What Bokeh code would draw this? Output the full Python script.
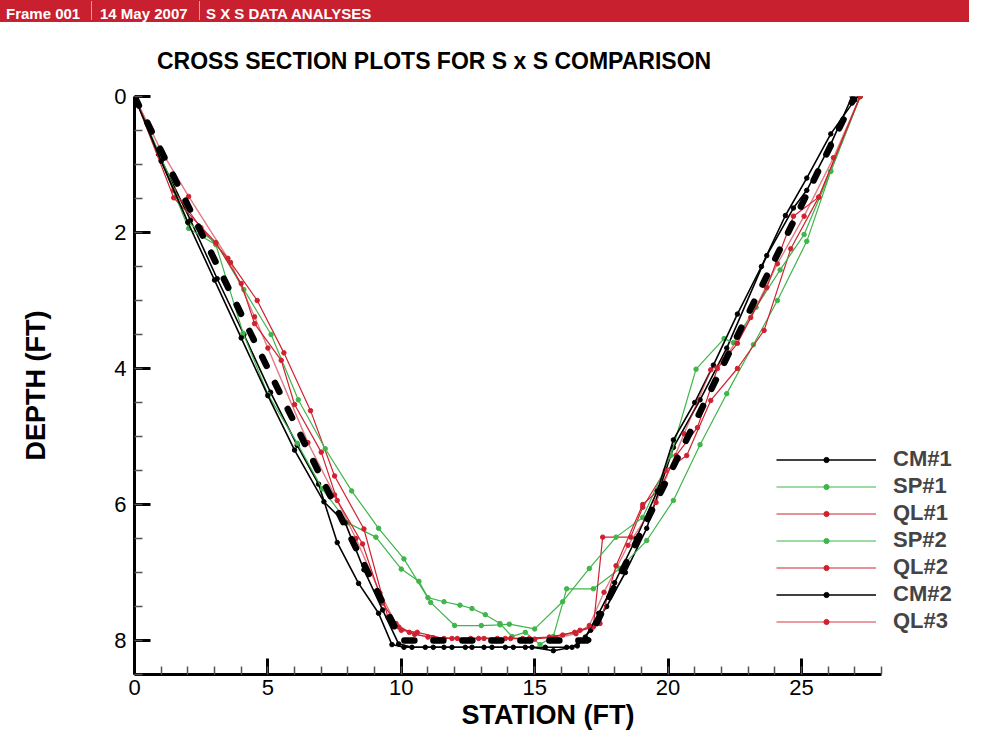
from bokeh.plotting import figure
from bokeh.models import Range1d, Legend, LegendItem, Div, FixedTicker
from bokeh.layouts import column
from bokeh.embed import file_html
from bokeh.resources import INLINE

# ---- data (station ft, depth ft) ----
design_x = [0, 10, 17, 27]
design_y = [0, 8, 8, 0]

cm1_x = [0, 0.9, 2.1, 3.1, 4.1, 5.1, 6.1, 6.9, 7.6, 8.4, 9.15, 9.65, 10.1, 10.9, 11.6, 12.4, 13.1, 13.9, 14.65, 15.4, 16.2, 16.6, 17.1, 17.7, 18.4, 19.2, 19.7, 20.2, 21.2, 22.2, 23.7, 24.7, 25.2, 26.1, 26.9]
cm1_y = [0, 0.85, 1.82, 2.68, 3.5, 4.35, 5.13, 5.7, 6.56, 7.16, 7.6, 8.06, 8.1, 8.1, 8.1, 8.1, 8.1, 8.1, 8.1, 8.1, 8.1, 8.08, 7.85, 7.5, 7.0, 6.35, 5.75, 5.16, 4.46, 3.7, 2.34, 1.64, 1.38, 0.7, 0]

sp1_x = [0, 1.0, 2.03, 3.05, 4.07, 5.0, 6.1, 7.04, 8.0, 9.05, 10.0, 10.66, 11.0, 11.6, 12.2, 12.65, 13.15, 13.7, 14.15, 14.65, 15.2, 15.7, 16.2, 17.2, 18.2, 19.2, 20.2, 21.2, 22.2, 23.2, 24.1, 25.2, 26.1, 27.2]
sp1_y = [0, 0.95, 1.94, 2.18, 3.48, 4.38, 5.1, 5.77, 6.27, 6.48, 6.95, 7.13, 7.37, 7.43, 7.48, 7.53, 7.62, 7.75, 7.94, 7.88, 8.06, 7.94, 7.24, 7.24, 6.94, 6.53, 5.94, 5.12, 4.37, 3.65, 3.0, 2.13, 1.1, 0]

ql1_x = [0, 1.47, 2.49, 3.5, 4.6, 5.6, 6.6, 7.5, 8.6, 9.5, 10.0, 10.6, 11.6, 12.6, 13.6, 14.55, 15.55, 16.5, 17.2, 17.55, 18.6, 19.05, 19.9, 20.7, 21.6, 22.6, 23.6, 24.6, 25.65, 27.2]
ql1_y = [0, 1.38, 1.93, 2.38, 3.0, 3.77, 4.62, 5.58, 6.36, 7.66, 7.85, 7.88, 7.97, 7.97, 7.97, 7.97, 7.95, 7.88, 7.8, 6.48, 6.48, 6.04, 5.5, 5.28, 4.47, 4.0, 3.44, 2.24, 1.48, 0]

sp2_x = [0, 1.0, 2.0, 3.05, 4.1, 5.12, 6.14, 7.15, 8.14, 9.15, 10.1, 11.1, 12.0, 13.0, 13.7, 14.05, 15.0, 16.05, 17.05, 18.05, 19.05, 20.1, 21.05, 22.1, 22.45, 23.3, 24.2, 25.1, 26.1, 27.2]
sp2_y = [0, 0.9, 1.85, 2.15, 2.84, 3.5, 4.46, 5.18, 5.8, 6.35, 6.8, 7.44, 7.78, 7.78, 7.77, 7.76, 7.83, 7.43, 6.94, 6.48, 6.19, 5.28, 4.01, 3.56, 3.62, 3.1, 2.55, 2.03, 1.1, 0]

ql2_x = [0, 1.47, 3.05, 4.0, 4.5, 5.5, 6.0, 7.0, 7.6, 8.55, 9.3, 9.9, 10.5, 11.2, 12.1, 13.1, 14.1, 15.0, 16.05, 16.7, 17.45, 18.05, 19.05, 19.7, 20.3, 21.1, 21.85, 22.6, 23.7, 24.7, 25.65, 27.2]
ql2_y = [0, 1.49, 2.15, 2.75, 3.34, 3.88, 4.53, 5.23, 5.94, 6.58, 7.45, 7.8, 7.91, 7.96, 7.97, 7.97, 7.97, 7.98, 7.92, 7.85, 7.75, 6.9, 6.0, 5.77, 5.28, 4.87, 4.0, 3.63, 2.81, 1.76, 1.48, 0]

cm2_x = [0, 1.0, 2.0, 3.0, 4.0, 5.0, 6.0, 7.1, 7.9, 8.6, 9.3, 9.9, 10.4, 11.2, 11.9, 12.65, 13.4, 14.2, 14.9, 15.7, 16.4, 16.9, 17.4, 18.0, 18.8, 19.6, 20.2, 21.0, 21.7, 22.6, 23.5, 24.4, 25.2, 26.1, 27.0]
cm2_y = [0, 0.95, 1.85, 2.7, 3.55, 4.4, 5.2, 5.96, 6.27, 6.96, 7.55, 8.05, 8.1, 8.1, 8.1, 8.1, 8.1, 8.1, 8.1, 8.15, 8.1, 7.95, 7.6, 7.15, 6.5, 5.8, 5.05, 4.5, 3.95, 3.2, 2.5, 1.75, 1.2, 0.55, 0.05]

ql3_x = [0, 1.0, 2.03, 3.6, 4.5, 5.0, 6.5, 7.5, 8.3, 9.2, 9.8, 10.3, 11.0, 11.9, 12.9, 13.9, 14.8, 15.8, 16.55, 17.05, 17.6, 18.5, 19.55, 20.6, 21.6, 22.1, 23.1, 24.1, 25.1, 26.2, 27.2]
ql3_y = [0, 0.8, 1.47, 2.44, 3.24, 3.7, 5.09, 5.86, 6.5, 7.3, 7.75, 7.88, 7.95, 7.97, 7.97, 7.97, 7.97, 7.96, 7.9, 7.78, 7.29, 6.6, 5.97, 4.96, 4.02, 3.88, 3.25, 2.46, 1.76, 0.9, 0]

series_names = ["CM#1", "SP#1", "QL#1", "SP#2", "QL#2", "CM#2", "QL#3"]

x_major = [0, 5, 10, 15, 20, 25]
y_major = [0, 2, 4, 6, 8]

BLACK = "#000000"
GREEN = "#3fb54a"
RED = "#cf2230"

FONT = "Liberation Sans"

header_html = f"""
<div style="position:relative;width:972px;height:70px;font-family:'{FONT}',Arial,sans-serif;">
  <div style="position:absolute;left:0px;top:0px;width:972px;height:25px;background:#c8202f;"></div>
  <span style="position:absolute;left:9px;top:9px;color:#ffffff;font-weight:bold;font-size:15px;line-height:15px;white-space:nowrap;">Frame 001</span>
  <div style="position:absolute;left:94px;top:4px;width:1px;height:19px;background:#e89aa0;"></div>
  <span style="position:absolute;left:103px;top:9px;color:#ffffff;font-weight:bold;font-size:15px;line-height:15px;white-space:nowrap;">14 May 2007</span>
  <div style="position:absolute;left:202px;top:4px;width:1px;height:19px;background:#e89aa0;"></div>
  <span style="position:absolute;left:209px;top:9px;color:#ffffff;font-weight:bold;font-size:15px;line-height:15px;white-space:nowrap;">S X S DATA ANALYSES</span>
  <span style="position:absolute;left:160px;top:53px;color:#000000;font-weight:bold;font-size:23px;line-height:23px;white-space:nowrap;">CROSS SECTION PLOTS FOR S x S COMPARISON</span>
</div>
"""
header = Div(text=header_html, width=972, height=70)

p = figure(width=972, height=667, x_range=Range1d(0, 31), y_range=Range1d(8.5, 0),
           output_backend="svg", toolbar_location=None,
           min_border_left=142, min_border_right=3, min_border_top=24, min_border_bottom=65)
p.outline_line_color = None
p.grid.visible = False
p.background_fill_color = "white"
p.border_fill_color = "white"

p.xaxis.ticker = FixedTicker(ticks=x_major, minor_ticks=list(range(0, 29)))
p.yaxis.ticker = FixedTicker(ticks=y_major, minor_ticks=[i * 0.5 for i in range(0, 18)])
p.xaxis.bounds = (0, 28)
for ax in (p.xaxis, p.yaxis):
    ax.axis_line_width = 3
    ax.axis_line_color = "black"
    ax.major_tick_in = 16
    ax.major_tick_out = 0
    ax.minor_tick_in = 8
    ax.minor_tick_out = 0
    ax.major_tick_line_width = 3
    ax.minor_tick_line_width = 1.5
    ax.minor_tick_line_color = "#555555"
    ax.major_label_text_font = FONT
    ax.major_label_text_font_size = "22px"
    ax.major_label_text_color = "black"
    ax.axis_label_text_font = FONT
    ax.axis_label_text_font_style = "bold"
    ax.axis_label_text_font_size = "27px"
    ax.axis_label_text_color = "black"
p.xaxis.axis_label = "STATION (FT)"
p.yaxis.axis_label = "DEPTH (FT)"
p.xaxis.major_label_standoff = 5
p.xaxis.axis_label_standoff = 2
p.yaxis.major_label_standoff = 8
p.yaxis.axis_label_standoff = 60

data = [
    (cm1_x, cm1_y, BLACK, 1.6, 1.0),
    (sp1_x, sp1_y, GREEN, 1.2, 1.0),
    (ql1_x, ql1_y, RED, 1.2, 1.0),
    (sp2_x, sp2_y, GREEN, 1.2, 1.0),
    (ql2_x, ql2_y, RED, 1.2, 1.0),
    (cm2_x, cm2_y, BLACK, 1.6, 1.0),
    (ql3_x, ql3_y, RED, 1.4, 0.6),
]

items = []
for name, (xs, ys, col, lw, la) in zip(series_names, data):
    r1 = p.line(xs, ys, line_color=col, line_width=lw, line_alpha=la)
    r2 = p.scatter(xs, ys, marker="circle", size=4.5, fill_color=col, line_color=col)
    items.append(LegendItem(label=name, renderers=[r1, r2]))

p.line(design_x, design_y, line_color="black", line_width=6.5, line_dash="10 19", line_cap="round")

legend = Legend(items=items, location=(642, 40), orientation="vertical",
                glyph_width=100, glyph_height=13, label_height=26, spacing=1,
                label_standoff=17, padding=0, margin=0,
                label_text_font=FONT, label_text_font_style="bold", label_text_font_size="22px",
                border_line_alpha=0, background_fill_alpha=0)
p.add_layout(legend, "center")

layout = column(header, p, spacing=0, styles={"position": "relative", "left": "-8px", "top": "-8px"})
open("out.html", "w").write(file_html(layout, INLINE))
